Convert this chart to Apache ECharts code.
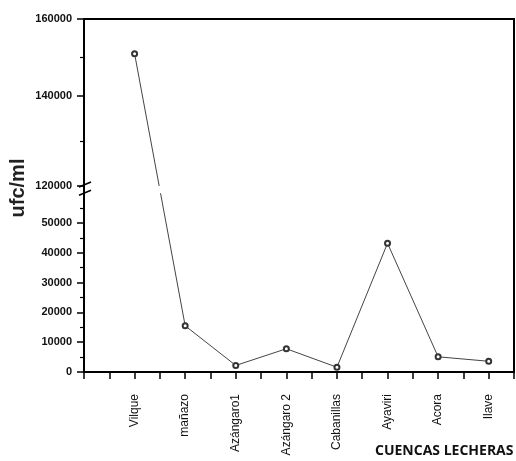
<!DOCTYPE html>
<html>
<head>
<meta charset="utf-8">
<script src="https://cdn.jsdelivr.net/npm/echarts@6/dist/echarts.min.js"></script>
<style>
  html, body { margin: 0; padding: 0; background: #fff; }
  #chart { width: 516px; height: 461px; }
</style>
</head>
<body>
<div id="chart"></div>
<script>
// cuencas lecheras (x) and recuento ufc/ml (y)
var cuencas = ['Vilque', 'mañazo', 'Azángaro1', 'Azángaro 2', 'Cabanillas', 'Ayaviri', 'Acora', 'Ilave'];
var ufc = [151000, 15500, 2200, 7800, 1600, 43200, 5100, 3600];

// eje y cortado: marcas principales y secundarias
var yTicks = [0, 10000, 20000, 30000, 40000, 50000, 120000, 140000, 160000];
var yMinor = [5000, 15000, 25000, 35000, 45000, 55000, 130000, 150000];

// escala del eje cortado (valor -> altura sobre el eje x)
var knotVal = [0, 60000, 120000, 140000, 160000];
var knotPos = [0, 178.8, 186, 276, 353];

function toAxis(v) {
    for (var i = 1; i < knotVal.length; i++) {
        if (v <= knotVal[i]) {
            var t = (v - knotVal[i - 1]) / (knotVal[i] - knotVal[i - 1]);
            return knotPos[i - 1] + t * (knotPos[i] - knotPos[i - 1]);
        }
    }
    return knotPos[knotPos.length - 1];
}

var yTickPos = yTicks.map(toAxis);
var yMinorPos = yMinor.map(toAxis);
var serieData = ufc.map(function (v, i) { return [i, toAxis(v)]; });

var chart = echarts.init(document.getElementById('chart'));

var option = {
    animation: false,
    backgroundColor: '#fff',
    grid: {
        left: 84, right: 2, top: 19, bottom: 89,
        containLabel: false,
        outerBoundsMode: 'none',
        show: true,
        borderColor: '#000',
        borderWidth: 2
    },
    xAxis: {
        type: 'value',
        min: -1,
        max: 7.5,
        interval: 0.5,
        splitLine: { show: false },
        axisLine: { lineStyle: { color: '#000', width: 2 } },
        axisTick: { inside: false, length: 7, lineStyle: { color: '#000', width: 1.5 } },
        axisLabel: {
            customValues: [0, 1, 2, 3, 4, 5, 6, 7],
            rotate: 90,
            margin: 22,
            color: '#111',
            fontFamily: 'Liberation Sans',
            fontSize: 12,
            formatter: function (v) { return cuencas[Math.round(v)] || ''; }
        }
    },
    yAxis: [
        {
            type: 'value',
            min: 0,
            max: 353,
            position: 'left',
            splitLine: { show: false },
            axisLine: { onZero: false, lineStyle: { color: '#000', width: 2 } },
            axisTick: {
                customValues: yTickPos,
                length: 7,
                lineStyle: { color: '#000', width: 1.5 }
            },
            axisLabel: {
                customValues: yTickPos,
                margin: 12,
                color: '#111',
                fontFamily: 'Liberation Sans',
                fontWeight: 'bold',
                fontSize: 11,
                formatter: function (v) {
                    var best = 0;
                    for (var i = 1; i < yTickPos.length; i++) {
                        if (Math.abs(yTickPos[i] - v) < Math.abs(yTickPos[best] - v)) best = i;
                    }
                    return String(yTicks[best]);
                }
            }
        },
        {
            // solo las marcas secundarias
            type: 'value',
            min: 0,
            max: 353,
            position: 'left',
            splitLine: { show: false },
            axisLine: { show: false, onZero: false },
            axisLabel: { show: false },
            axisTick: {
                customValues: yMinorPos,
                length: 4,
                lineStyle: { color: '#000', width: 1.2 }
            }
        }
    ],
    series: [
        {
            type: 'line',
            data: serieData,
            symbol: 'emptyCircle',
            symbolSize: 5,
            showSymbol: true,
            lineStyle: { color: '#444', width: 1 },
            itemStyle: { color: '#333', borderColor: '#333', borderWidth: 1 }
        }
    ]
};

chart.setOption(option);

// marca del corte y hueco en la linea
var yHi = chart.convertToPixel({ yAxisIndex: 0 }, toAxis(120000));
var yLo = chart.convertToPixel({ yAxisIndex: 0 }, toAxis(60000));
var xAx = chart.convertToPixel({ xAxisIndex: 0 }, -1);
var xEnd = chart.convertToPixel({ xAxisIndex: 0 }, 7.5);

chart.setOption({
    graphic: [
        {
            type: 'rect', z: 100,
            shape: { x: xAx + 2, y: yHi, width: xEnd - xAx - 5, height: yLo - yHi },
            style: { fill: '#fff' }
        },
        {
            type: 'line', z: 101,
            shape: { x1: xAx - 5, y1: yHi + 1, x2: xAx + 7, y2: yHi - 4 },
            style: { stroke: '#000', lineWidth: 1.5 }
        },
        {
            type: 'line', z: 101,
            shape: { x1: xAx - 5, y1: yLo + 2, x2: xAx + 7, y2: yLo - 3 },
            style: { stroke: '#000', lineWidth: 1.5 }
        },
        {
            type: 'text', z: 101,
            x: 18, y: 188,
            rotation: Math.PI / 2,
            style: {
                text: 'ufc/ml',
                fill: '#222',
                font: 'bold 20px "Liberation Sans"',
                align: 'center',
                verticalAlign: 'middle'
            }
        },
        {
            type: 'text', z: 101,
            left: 375, top: 444,
            style: {
                text: 'CUENCAS LECHERAS',
                fill: '#111',
                font: 'bold 14px "Open Sans"'
            }
        }
    ]
});
</script>
</body>
</html>
